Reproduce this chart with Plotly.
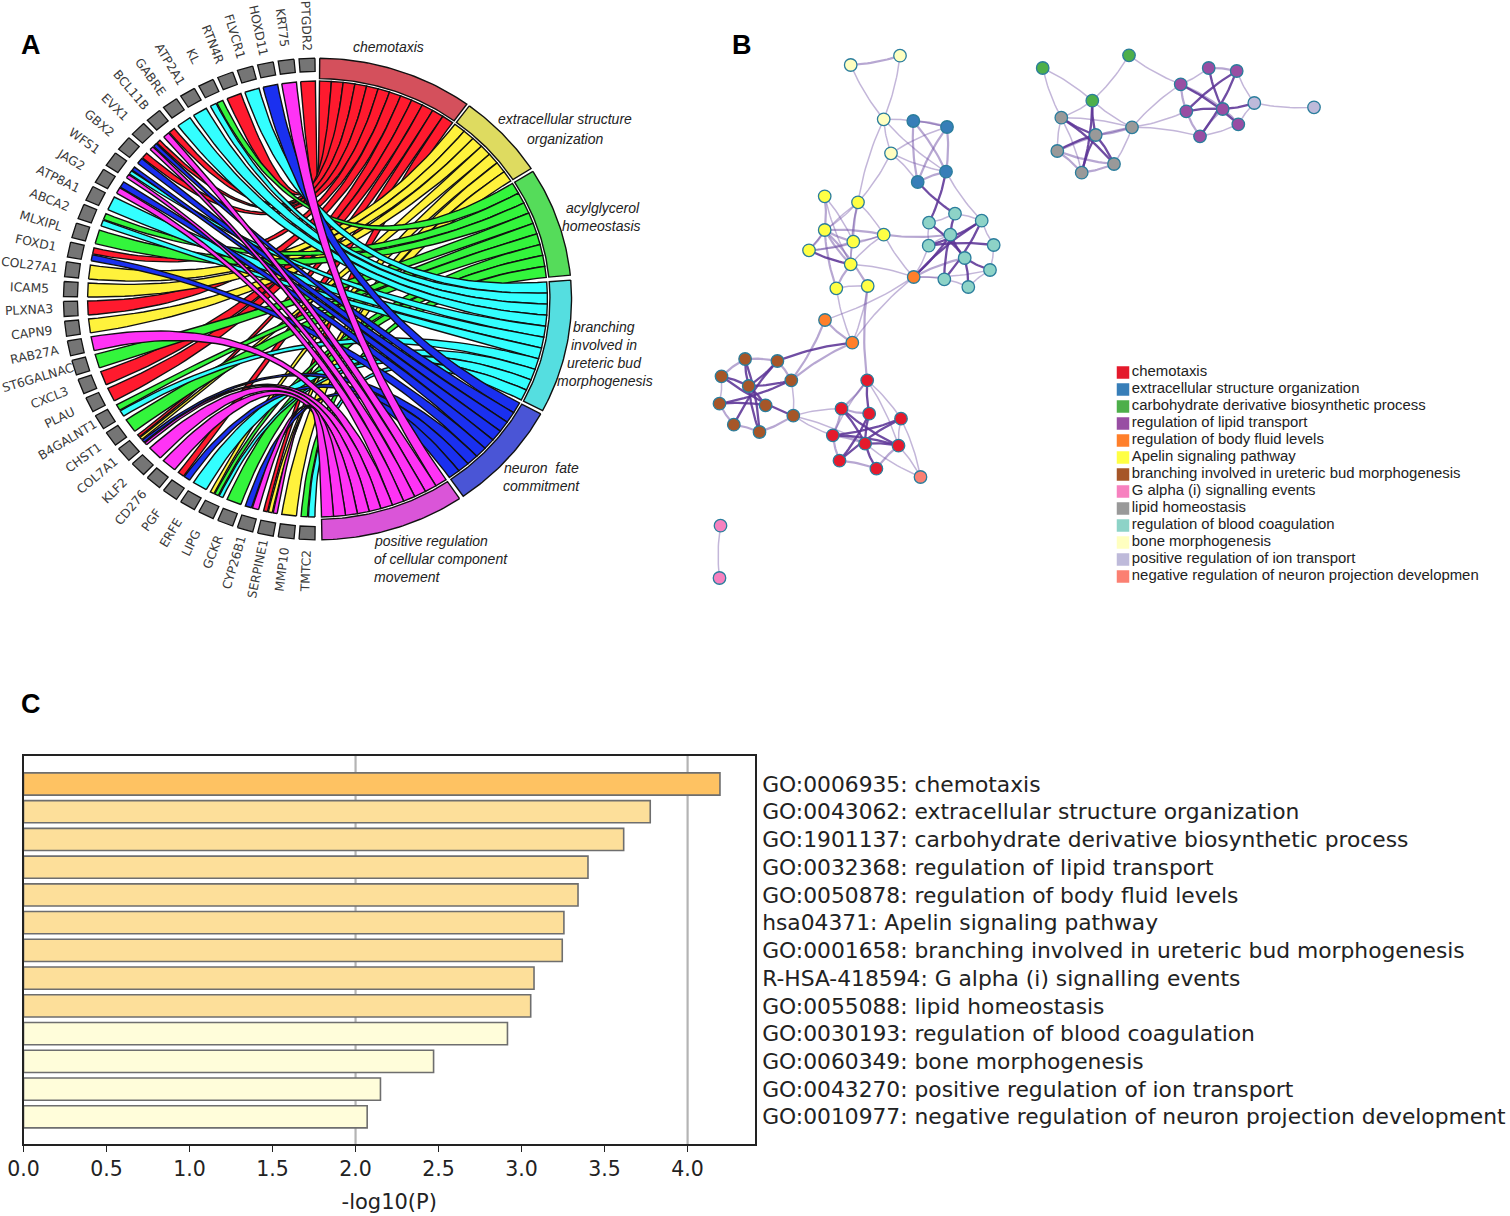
import numpy as np
import plotly.graph_objects as go

W, H = 1510, 1216

# ---------- Panel A data ----------
genes = ["PTGDR2","KRT75","HOXD11","FLVCR1","RTN4R","KL","ATP2A1","GABRE","BCL11B","EVX1","GBX2","WFS1","JAG2",
         "ATP8A1","ABCA2","MLXIPL","FOXD1","COL27A1","ICAM5","PLXNA3","CAPN9","RAB27A","ST6GALNAC","CXCL3","PLAU",
         "B4GALNT1","CHST1","COL7A1","KLF2","CD276","PGF","ERFE","LIPG","GCKR","CYP26B1","SERPINE1","MMP10","TMTC2"]
gene_terms = ["R","M","B","C","R","GC","C","C","RM","RBM","RB","BCM","BM",
              "C","GC","G","RB","Y","Y","R","Y","M","G","R","R",
              "GC","G","RYBM","M","M","RB","C","YGC","G","BM","RYM","Y","GC"]
term_keys = ["R","Y","G","C","B","M"]
term_start = [0.5, 36.7, 58.0, 85.5, 118.5, 146.0]
term_end = [36.0, 57.2, 84.3, 117.6, 145.0, 179.0]
ribbon_colors = ["#FF1A2E","#FFF23C","#33F53C","#33FFFF","#1A30F0","#FF33F5"]
band_colors = ["#D4505C","#DEDB60","#55DC5A","#55DEE0","#4A55D6","#DA55D8"]

# ---------- Panel B data ----------
clusters = ["chemotaxis","extracellular structure organization","carbohydrate derivative biosynthetic process",
            "regulation of lipid transport","regulation of body fluid levels","Apelin signaling pathway",
            "branching involved in ureteric bud morphogenesis","G alpha (i) signalling events","lipid homeostasis",
            "regulation of blood coagulation","bone morphogenesis","positive regulation of ion transport",
            "negative regulation of neuron projection developmen"]
cluster_colors = ["#E41A2C","#377EB8","#4DAF4A","#984EA3","#FF7F2A","#FFFF44","#A65628","#F781BF","#999999",
                  "#8DD3C7","#FFFFC0","#BEBADA","#FB8072"]
cluster_prefix = ["ch","ec","cb","lt","bf","ap","ur","ga","lh","co","bo","io","ne"]
node_x = {
 "ch":[867.2,841.5,869.2,901,832.8,865.1,898.5,839.5,876.4],
 "ec":[913.3,947,946,917.7],
 "cb":[1042.7,1129,1092.3],
 "lt":[1180.7,1208.7,1236.7,1186.3,1222.7,1238.3,1200],
 "bf":[913.7,825,852.3],
 "ap":[824.7,858,824.7,883.7,853.3,809,850.7,836.3,867.7],
 "ur":[745.1,777.4,721.5,791.3,748.7,719.5,765.6,793.3,733.8,759.5],
 "ga":[720.5,719.5],
 "lh":[1061.3,1095.7,1132,1057.3,1114,1081.7],
 "co":[929,955,981.7,950.3,928.7,993.7,964.7,990,944.3,968.3],
 "bo":[850.7,900,883.7,891],
 "io":[1254.3,1314],
 "ne":[920.5],
}
node_y = {
 "ch":[380.3,408.7,413.7,418.7,435.3,443.7,445.7,460.7,468.7],
 "ec":[121,127,171.7,182],
 "cb":[68,55.3,100.7],
 "lt":[84.3,68,71,111.3,109,124.3,136.3],
 "bf":[277,320,342.7],
 "ap":[196.3,202.3,230,234.7,241.7,250.3,264.3,288.3,286],
 "ur":[359,361,376.3,380.3,386,403.7,405.3,415.7,424.7,432],
 "ga":[525.7,578],
 "lh":[117.7,135,127.3,151,164,172.7],
 "co":[222.7,213.7,220.7,234.7,245.7,245,258,270,279.3,287],
 "bo":[65,55.7,119.3,153.3],
 "io":[103,107.3],
 "ne":[477],
}
edges_light = """bo0-bo2 bo1-bo2 bo2-bo3 bo2-ec1 bo2-ec2 bo3-ec1 bo3-ec2 bo3-ec3 bo2-ap1 bo3-ap1 ec2-co2
ap0-ap4 ap0-ap6 ap1-ap2 ap1-ap5 ap1-ap3 ap1-ap6 ap3-ap4 ap3-ap6 ap3-ap5 ap4-ap6 ap7-ap8 ap3-bf0 ap6-bf0 ap7-bf2 ap8-bf2
co0-co1 co1-co2 co2-co5 co5-co7 co7-co9 co8-co9 co0-co4 co4-co3 bf0-co4 bf0-co8 bf0-co7
bf0-bf1 bf0-bf2 ur7-ch1 ur7-ch4 ur7-ch5 ur7-ur3 ch0-ch3 ch0-ch4 ch0-ch6 ch3-ch6 ch3-ne0 ch5-ne0 ch6-ne0 ga0-ga1
cb0-cb2 cb0-lh0 cb1-cb2 cb1-lt0 cb2-lh0 cb2-lh2 lh0-lh2 lh0-lh3 lh0-lh5 lh4-lh2 lh2-lt0 lh2-lt3 lh2-lt6
lt0-lt1 lt5-lt6 lt2-io0 lt5-io0 io0-io1 ur2-ur5""".split()
edges_medium = """bo0-bo1 ec0-ec1 ec0-ec3 ec1-ec2 ec1-ec3 ec0-ec2 ec2-ec3 ap0-ap2 ap1-ap4 ap2-ap3 ap2-ap4 ap2-ap5 ap2-ap6
ap2-ap8 ap3-co3 ap4-ap5 ap6-ap7 ap7-ap2 bf1-bf2 bf1-ur3 bf2-ur3 bf0-co6 ap8-ch0 ur0-ur1 ur0-ur2 ur1-ur3 ur5-ur8 ur8-ur9
ur9-ur7 ch0-ch1 ch1-ch2 ch4-ch5 ch4-ch7 ch7-ch8 ch6-ch8 ch1-ch4 lh1-lh2 lh3-lh2 lh3-lh4 lh3-lh5 lh5-lh4 lt1-lt2 lt0-lt3
lt0-lt4 lt3-lt6 lt4-lt5 lt4-lt6""".split()
edges_heavy = """ec3-co1 ec2-co0 ap5-ap6 co0-co6 co1-co3 co2-co4 co3-co8 co4-co5 co6-co7 co6-co9 co3-co6 co2-co8 bf0-co3 bf0-co2
bf2-ur1 ur2-ur4 ur0-ur4 ur0-ur9 ur1-ur8 ur3-ur5 ur2-ur7 ur4-ur6 ur4-ur9 ur5-ur6 ur4-ur3 ur1-ur4 ch0-ch2 ch1-ch5 ch1-ch6
ch2-ch7 ch2-ch5 ch3-ch4 ch3-ch7 ch4-ch6 ch5-ch8 ch5-ch6 cb2-lh1 cb2-lh5 lh0-lh1 lh0-lh4 lh1-lh3 lh1-lh4 lh1-lh5 lt0-lt5
lt1-lt4 lt2-lt6 lt2-lt3 lt3-lt4 lt4-io0""".split()

# ---------- Panel C data ----------
go_labels = ["GO:0006935: chemotaxis","GO:0043062: extracellular structure organization",
             "GO:1901137: carbohydrate derivative biosynthetic process","GO:0032368: regulation of lipid transport",
             "GO:0050878: regulation of body fluid levels","hsa04371: Apelin signaling pathway",
             "GO:0001658: branching involved in ureteric bud morphogenesis","R-HSA-418594: G alpha (i) signalling events",
             "GO:0055088: lipid homeostasis","GO:0030193: regulation of blood coagulation","GO:0060349: bone morphogenesis",
             "GO:0043270: positive regulation of ion transport","GO:0010977: negative regulation of neuron projection development"]
log_p = [4.195,3.775,3.615,3.40,3.34,3.255,3.245,3.075,3.055,2.915,2.47,2.15,2.07]
bar_colors = ["#FEC262"]+["#FDDF9A"]*8+["#FFFDDA"]*4


def pt(deg, r):
    a = np.radians(deg)
    return r*np.sin(a), r*np.cos(a)


def arc(d1, d2, r, n=14):
    return pt(np.linspace(d1, d2, n), r)


def bez(p0, p2, n=50):
    t = np.linspace(0, 1, n)
    return (1-t)**2*p0[0]+t**2*p2[0], (1-t)**2*p0[1]+t**2*p2[1]


fig = go.Figure()
R_in = 0.905

# gene slots
slot = 180.0/len(genes)
gene_slots = {}
for i, terms in enumerate(gene_terms):
    g_hi = 360-slot*i-slot*0.11
    g_lo = 360-slot*(i+1)+slot*0.11
    step = (g_hi-g_lo)/len(terms)
    for k, t in enumerate(terms):
        gap = 0.12 if len(terms) > 1 else 0
        gene_slots[(i, t)] = (g_hi-step*k-gap, g_hi-step*(k+1)+gap)

# ribbons
for t_i, key in enumerate(term_keys):
    members = [i for i, ts in enumerate(gene_terms) if key in ts]
    w = (term_end[t_i]-term_start[t_i])/len(members)
    for j, i in enumerate(members):
        a1, a2 = term_start[t_i]+w*j, term_start[t_i]+w*(j+1)
        g1, g2 = gene_slots[(i, key)]
        xs, ys = [], []
        gx, gy = arc(g2, g1, R_in, 5)
        xs += list(gx); ys += list(gy)
        bx, by = bez(pt(g1, R_in), pt(a1, R_in))
        xs += list(bx); ys += list(by)
        tx, ty = arc(a1, a2, R_in, 6)
        xs += list(tx); ys += list(ty)
        bx, by = bez(pt(a2, R_in), pt(g2, R_in))
        xs += list(bx); ys += list(by)
        fig.add_trace(go.Scatter(x=xs, y=ys, mode="lines", fill="toself", fillcolor=ribbon_colors[t_i],
                                 line=dict(color="#111111", width=1.4), hoverinfo="skip", showlegend=False,
                                 xaxis="x", yaxis="y"))

# term bands
for t_i in range(len(term_keys)):
    ox, oy = arc(term_start[t_i], term_end[t_i], 1.0, 40)
    ix, iy = arc(term_end[t_i], term_start[t_i], 0.915, 40)
    fig.add_trace(go.Scatter(x=list(ox)+list(ix)+[ox[0]], y=list(oy)+list(iy)+[oy[0]], mode="lines", fill="toself",
                             fillcolor=band_colors[t_i], line=dict(color="#111111", width=1.4),
                             hoverinfo="skip", showlegend=False, xaxis="x", yaxis="y"))

# gene boxes
for i in range(len(genes)):
    d1 = 360-slot*i-slot*0.12
    d2 = 360-slot*(i+1)+slot*0.12
    ox, oy = arc(d1, d2, 1.0, 5)
    ix, iy = arc(d2, d1, 0.945, 5)
    fig.add_trace(go.Scatter(x=list(ox)+list(ix)+[ox[0]], y=list(oy)+list(iy)+[oy[0]], mode="lines", fill="toself",
                             fillcolor="#757575", line=dict(color="#111111", width=1.3),
                             hoverinfo="skip", showlegend=False, xaxis="x", yaxis="y"))

annotations = []
for i, g in enumerate(genes):
    c = 360-slot*(i+0.5)
    r = 1.113+0.004*len(g)
    x, y = pt(c, r)
    annotations.append(dict(x=float(x), y=float(y), xref="x", yref="y", text=g, showarrow=False, textangle=c-270,
                            xanchor="center", yanchor="middle",
                            font=dict(family="DejaVu Sans", size=12.3, color="#3a3a3a")))


def txt(px, py, s, size, family="Liberation Sans", color="#222222", anchor="center"):
    annotations.append(dict(x=px/W, y=1-py/H, xref="paper", yref="paper", text=s, showarrow=False, xanchor=anchor,
                            yanchor="middle", font=dict(family=family, size=size, color=color)))


for px, py, s in [(388,47,"chemotaxis"),(565,119,"extracellular structure"),(565,139,"organization"),
                  (603,208,"acylglycerol"),(601,226,"homeostasis"),(604,327,"branching"),(604,345,"involved in"),
                  (604,363,"ureteric bud"),(605,381,"morphogenesis"),(541,468,"neuron  fate"),(541,486,"commitment")]:
    txt(px, py, "<i>%s</i>" % s, 14)
for py, s in [(541,"positive regulation"),(559,"of cellular component"),(577,"movement")]:
    txt(372, py, "<i>%s</i>" % s, 14, anchor="left")

for px, py, s in [(31,45,"A"),(742,45,"B"),(31,704,"C")]:
    txt(px, py, "<b>%s</b>" % s, 27, color="#000000")


# Panel B edges
def edge_path(names):
    xs, ys = [], []
    for n, e in enumerate(names):
        a, b = e.split("-")
        x0, y0 = node_x[a[:2]][int(a[2:])], node_y[a[:2]][int(a[2:])]
        x1, y1 = node_x[b[:2]][int(b[2:])], node_y[b[:2]][int(b[2:])]
        s = 0.07 if n % 2 == 0 else -0.07
        cx, cy = (x0+x1)/2-(y1-y0)*s, (y0+y1)/2+(x1-x0)*s
        t = np.linspace(0, 1, 16)
        xs += list((1-t)**2*x0+2*t*(1-t)*cx+t**2*x1)+[None]
        ys += list((1-t)**2*y0+2*t*(1-t)*cy+t**2*y1)+[None]
    return xs, ys


for names, col, wd in [(edges_light, "rgba(112,80,165,0.42)", 1.5), (edges_medium, "rgba(112,80,165,0.5)", 2.2),
                       (edges_heavy, "rgba(92,52,150,0.88)", 2.3)]:
    ex, ey = edge_path(names)
    fig.add_trace(go.Scatter(x=ex, y=ey, mode="lines", line=dict(color=col, width=wd), hoverinfo="skip",
                             showlegend=False, xaxis="x2", yaxis="y2"))

for p, col, name in zip(cluster_prefix, cluster_colors, clusters):
    fig.add_trace(go.Scatter(x=node_x[p], y=node_y[p], mode="markers", name=name, showlegend=False,
                             marker=dict(size=12.5, color=col, line=dict(color="#2A7D9C", width=1.3)),
                             xaxis="x2", yaxis="y2"))

# Panel B legend as labelled squares
fig.add_trace(go.Scatter(x=[1123]*len(clusters), y=[372.5+17*k for k in range(len(clusters))], mode="markers+text",
                         text=clusters, textposition="middle right",
                         textfont=dict(family="Liberation Sans", size=14.9, color="#222222"),
                         marker=dict(size=12.5, symbol="square", color=cluster_colors, line=dict(width=0)),
                         cliponaxis=False, hoverinfo="skip", showlegend=False, xaxis="x2", yaxis="y2"))

# Panel C
fig.add_trace(go.Bar(x=log_p, y=go_labels, orientation="h", width=0.8,
                     marker=dict(color=bar_colors, line=dict(color="#6e6e6e", width=1.6)),
                     showlegend=False, xaxis="x3", yaxis="y3"))

hidden = dict(visible=False, showgrid=False, zeroline=False)
fig.update_layout(
    width=W, height=H, margin=dict(l=0, r=0, t=0, b=0, autoexpand=False), paper_bgcolor="white", plot_bgcolor="white",
    font=dict(family="DejaVu Sans"), bargap=0.2,
    xaxis=dict(domain=[2.5/W, 632.5/W], range=[-1.24, 1.24], **hidden),
    yaxis=dict(domain=[1-588/H, 1-10/H], range=[-1.2, 1.2], **hidden),
    xaxis2=dict(domain=[700/W, 1], range=[700, W], anchor="y2", **hidden),
    yaxis2=dict(domain=[1-600/H, 1-30/H], range=[600, 30], anchor="x2", **hidden),
    xaxis3=dict(domain=[23.5/W, 755/W], range=[0, 4.406], anchor="y3", tickvals=[0,0.5,1,1.5,2,2.5,3,3.5,4],
                ticktext=["0.0","0.5","1.0","1.5","2.0","2.5","3.0","3.5","4.0"], ticks="outside", ticklen=6,
                tickwidth=1.3, tickcolor="#222", showgrid=False, zeroline=False, showline=True, mirror=True,
                linecolor="#222", linewidth=1.6, tickfont=dict(family="DejaVu Sans", size=20.5, color="#222"),
                title=dict(text="-log10(P)", font=dict(family="DejaVu Sans", size=21, color="#222"), standoff=14)),
    yaxis3=dict(domain=[1-1144/H, 1-755.7/H], type="category", categoryorder="array", categoryarray=go_labels,
                range=[12.98, -1.02], anchor="x3", side="right", ticks="", showgrid=False, zeroline=False,
                showline=True, mirror=True, linecolor="#222", linewidth=1.6, ticklabelstandoff=1,
                tickfont=dict(family="DejaVu Sans", size=21.8, color="#222")),
    shapes=[dict(type="line", xref="x3", yref="y3 domain", x0=v, x1=v, y0=0, y1=1, layer="below",
                 line=dict(color="#b4b4b4", width=2.2)) for v in (2, 4)],
    annotations=annotations,
)

fig.write_html("out.html", config={"displayModeBar": False},
               post_script="document.body.style.margin='0';document.documentElement.style.overflow='hidden';")
